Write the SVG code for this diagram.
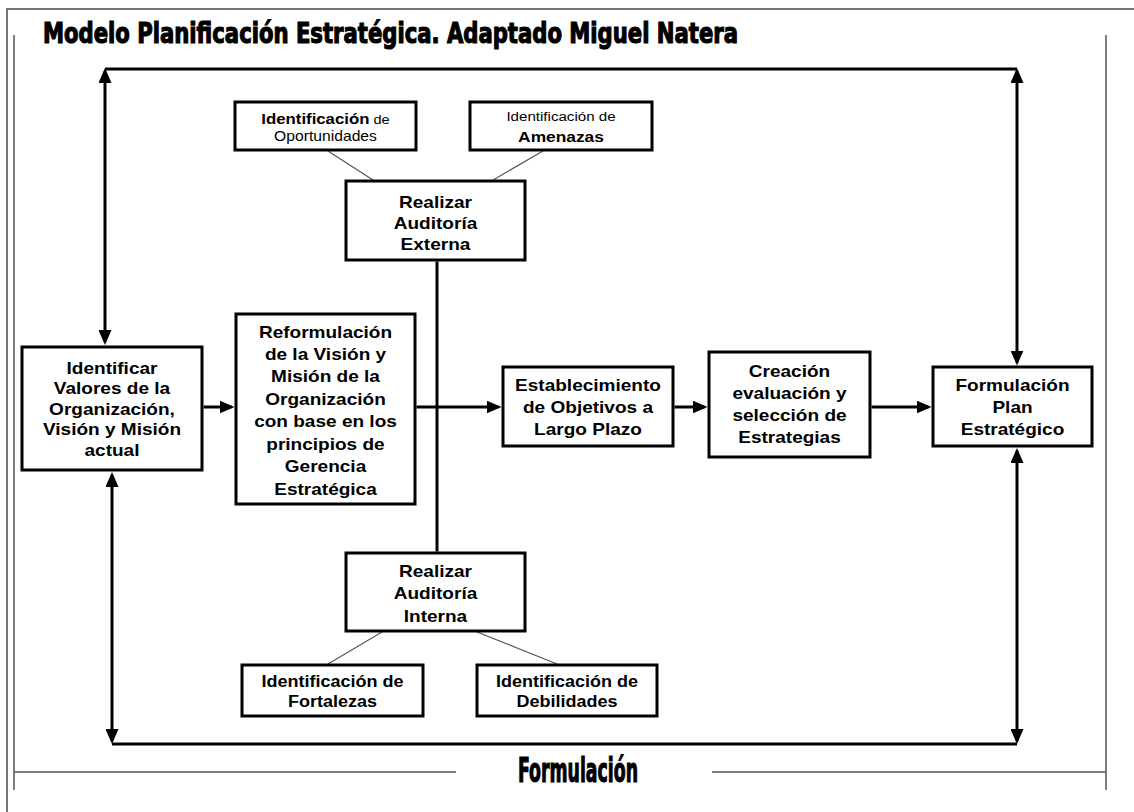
<svg xmlns="http://www.w3.org/2000/svg" width="1134" height="812" viewBox="0 0 1134 812">
<style>
.box{fill:#fff;stroke:#000;stroke-width:3}
.t{font-family:"Liberation Sans",Arial,sans-serif;font-weight:bold;font-size:17px;fill:#000;text-anchor:middle}
.s{font-family:"Liberation Sans",Arial,sans-serif;fill:#000;text-anchor:middle}
.big{font-family:"DejaVu Sans Condensed","DejaVu Sans",sans-serif;font-weight:bold;font-stretch:condensed;fill:#000;stroke:#000;stroke-width:1.1}
.frame{stroke:#777;stroke-width:2;fill:none}
.inner{stroke:#555;stroke-width:1.5;fill:none}
.c{stroke:#000;stroke-width:3;fill:none}
.thin{stroke:#555;stroke-width:1.2;fill:none}
</style>
<defs>
<marker id="arr" viewBox="0 0 15 13" markerWidth="15" markerHeight="13" refX="12" refY="6.5" markerUnits="userSpaceOnUse" orient="auto-start-reverse">
<path d="M0,0 L15,6.5 L0,13 z" fill="#000"/>
</marker>
</defs>
<rect x="0" y="0" width="1134" height="812" fill="#fff"/>
<g id="frame">
<path class="frame" d="M7,812 V9 H1134"/>
<path class="inner" d="M14,35 V790 M1106,35 V790 M14,772 H456 M712,772 H1106"/>
</g>
<text class="big" x="43" y="43" font-size="27.5" textLength="695" lengthAdjust="spacingAndGlyphs">Modelo Planificación Estratégica. Adaptado Miguel Natera</text>
<text class="big" x="518" y="782" font-size="33" textLength="120" lengthAdjust="spacingAndGlyphs">Formulación</text>
<g id="connectors">
<line class="c" x1="105" y1="71" x2="105" y2="342" marker-start="url(#arr)" marker-end="url(#arr)"/>
<path class="c" d="M105,69 H1017"/>
<line class="c" x1="1017" y1="71" x2="1017" y2="362.5" marker-start="url(#arr)" marker-end="url(#arr)"/>
<line class="c" x1="112" y1="475" x2="112" y2="741" marker-start="url(#arr)" marker-end="url(#arr)"/>
<path class="c" d="M112,744 H1017"/>
<line class="c" x1="1017" y1="451" x2="1017" y2="741" marker-start="url(#arr)" marker-end="url(#arr)"/>
<line class="c" x1="203.5" y1="407" x2="231.5" y2="407" marker-end="url(#arr)"/>
<line class="c" x1="416.5" y1="407" x2="498.5" y2="407" marker-end="url(#arr)"/>
<line class="c" x1="674.5" y1="407" x2="704.5" y2="407" marker-end="url(#arr)"/>
<line class="c" x1="871.5" y1="407" x2="928.5" y2="407" marker-end="url(#arr)"/>
<line class="c" x1="437" y1="261.5" x2="437" y2="551.5"/>
<line class="thin" x1="328" y1="151" x2="373" y2="180"/>
<line class="thin" x1="543" y1="151" x2="493" y2="180"/>
<line class="thin" x1="382" y1="632" x2="328" y2="664"/>
<line class="thin" x1="477" y1="632" x2="557" y2="664"/>
</g>
<g id="n_oportunidades">
<rect class="box" x="235" y="102" width="181" height="48"/>
<text class="s" transform="translate(325.5 0) scale(1.12 1)"><tspan x="0" y="124"><tspan font-weight="bold" font-size="15">Identificación</tspan><tspan font-size="13"> de</tspan></tspan><tspan x="0" y="141" font-size="14">Oportunidades</tspan></text>
</g>
<g id="n_amenazas">
<rect class="box" x="470" y="102" width="182" height="48"/>
<text class="s" transform="translate(561 0) scale(1.12 1)"><tspan x="0" y="121" font-size="13.5">Identificación de</tspan><tspan x="0" y="142" font-size="15.5" font-weight="bold">Amenazas</tspan></text>
</g>
<g id="n_externa">
<rect class="box" x="346" y="181" width="179" height="79"/>
<text class="t" transform="translate(435.5 0) scale(1.12 1)"><tspan x="0" y="208">Realizar</tspan><tspan x="0" y="229">Auditoría</tspan><tspan x="0" y="250">Externa</tspan></text>
</g>
<g id="n_valores">
<rect class="box" x="22" y="347" width="180" height="123"/>
<text class="t" transform="translate(112 0) scale(1.12 1)"><tspan x="0" y="374">Identificar</tspan><tspan x="0" y="394">Valores de la</tspan><tspan x="0" y="415">Organización,</tspan><tspan x="0" y="435">Visión y Misión</tspan><tspan x="0" y="456">actual</tspan></text>
</g>
<g id="n_reformulacion">
<rect class="box" x="236" y="314" width="179" height="190"/>
<text class="t" transform="translate(325.5 0) scale(1.12 1)"><tspan x="0" y="338">Reformulación</tspan><tspan x="0" y="360">de la Visión y</tspan><tspan x="0" y="382">Misión de la</tspan><tspan x="0" y="405">Organización</tspan><tspan x="0" y="427">con base en los</tspan><tspan x="0" y="450">principios de</tspan><tspan x="0" y="472">Gerencia</tspan><tspan x="0" y="495">Estratégica</tspan></text>
</g>
<g id="n_objetivos">
<rect class="box" x="503" y="367" width="170" height="79"/>
<text class="t" transform="translate(588 0) scale(1.12 1)"><tspan x="0" y="391">Establecimiento</tspan><tspan x="0" y="413">de Objetivos a</tspan><tspan x="0" y="435">Largo Plazo</tspan></text>
</g>
<g id="n_estrategias">
<rect class="box" x="709" y="352" width="161" height="105"/>
<text class="t" transform="translate(789.5 0) scale(1.12 1)"><tspan x="0" y="377">Creación</tspan><tspan x="0" y="399">evaluación y</tspan><tspan x="0" y="421">selección de</tspan><tspan x="0" y="443">Estrategias</tspan></text>
</g>
<g id="n_plan">
<rect class="box" x="933" y="367" width="159" height="79"/>
<text class="t" transform="translate(1012.5 0) scale(1.12 1)"><tspan x="0" y="391">Formulación</tspan><tspan x="0" y="413">Plan</tspan><tspan x="0" y="435">Estratégico</tspan></text>
</g>
<g id="n_interna">
<rect class="box" x="346" y="553" width="179" height="78"/>
<text class="t" transform="translate(435.5 0) scale(1.12 1)"><tspan x="0" y="577">Realizar</tspan><tspan x="0" y="599">Auditoría</tspan><tspan x="0" y="622">Interna</tspan></text>
</g>
<g id="n_fortalezas">
<rect class="box" x="242" y="665" width="181" height="51"/>
<text class="t" font-size="16" transform="translate(332.5 0) scale(1.06 1)"><tspan x="0" y="687">Identificación de</tspan><tspan x="0" y="707">Fortalezas</tspan></text>
</g>
<g id="n_debilidades">
<rect class="box" x="477" y="665" width="180" height="51"/>
<text class="t" font-size="16" transform="translate(567 0) scale(1.06 1)"><tspan x="0" y="687">Identificación de</tspan><tspan x="0" y="707">Debilidades</tspan></text>
</g>
</svg>
